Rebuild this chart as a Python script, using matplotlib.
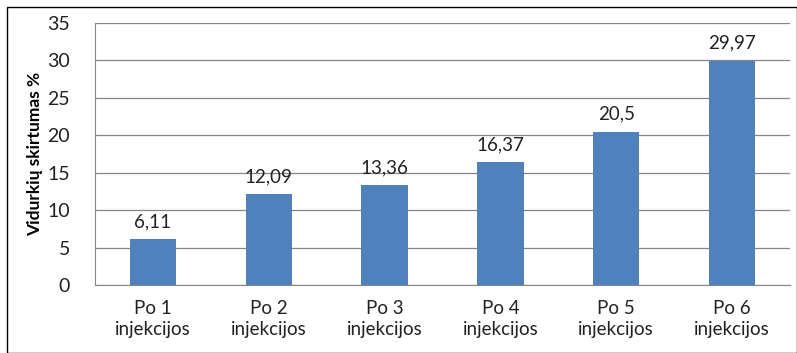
import matplotlib.pyplot as plt
from matplotlib.patches import Rectangle

categories = ["Po 1\ninjekcijos", "Po 2\ninjekcijos", "Po 3\ninjekcijos",
              "Po 4\ninjekcijos", "Po 5\ninjekcijos", "Po 6\ninjekcijos"]
values = [6.11, 12.09, 13.36, 16.37, 20.5, 29.97]
labels = ["6,11", "12,09", "13,36", "16,37", "20,5", "29,97"]
yticks = [0, 5, 10, 15, 20, 25, 30, 35]

plt.rcParams['font.family'] = ['Lato', 'DejaVu Sans']

fig = plt.figure(figsize=(7.97, 3.53), dpi=100)
W, H = 797, 353
ax = fig.add_axes([95 / W, 1 - 285 / H, (790 - 95) / W, (285 - 23) / H])

# outer chart border
fig.patches.append(Rectangle((7 / W, 0.0), (797 - 7) / W, 1 - 7 / H,
                             transform=fig.transFigure, fill=False,
                             edgecolor='#000000', linewidth=1.0))

x = range(len(values))
ax.bar(x, values, width=0.4, color='#4f81bd', zorder=3)
for xi, v, lab in zip(x, values, labels):
    ax.text(xi, v + 1.2, lab, ha='center', va='bottom', fontsize=13.5, color='#222222')

ax.set_xlim(-0.5, len(values) - 0.5)
ax.set_ylim(0, 35)
ax.set_yticks(yticks)
ax.set_yticklabels([str(t) for t in yticks], fontsize=14)
ax.set_xticks(list(x))
ax.set_xticklabels(categories, fontsize=13.5, linespacing=1.3)
ax.yaxis.grid(True, color='#868686', linewidth=0.9, zorder=0)
ax.tick_params(axis='both', length=0, colors='#222222')
ax.tick_params(axis='y', pad=18)
ax.tick_params(axis='x', pad=11)
for side in ['top', 'right']:
    ax.spines[side].set_visible(False)
ax.spines['left'].set_color('#868686')
ax.spines['bottom'].set_color('#868686')
ax.set_ylabel('Vidurkių skirtumas %', fontsize=12.5, fontweight='bold', labelpad=3)

fig.savefig('out.png', dpi=100)
